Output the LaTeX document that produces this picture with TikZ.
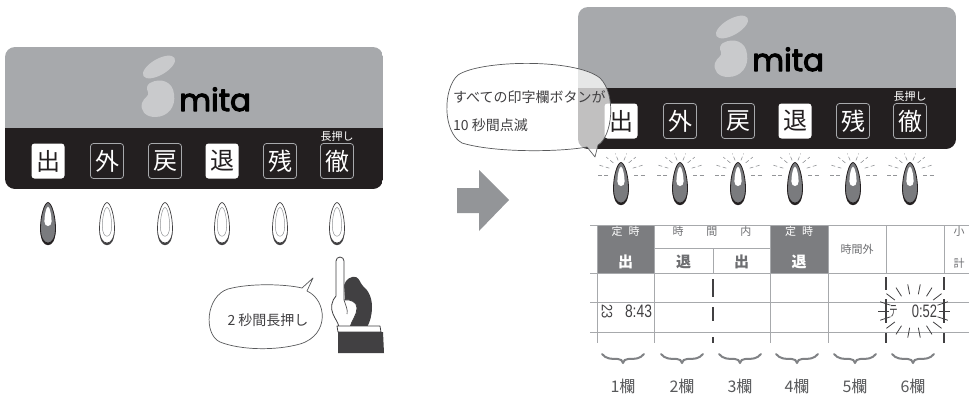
\documentclass[tikz,border=0pt]{standalone}
\usepackage{fontspec}
\usepackage{graphicx}
\setmainfont{Noto Sans CJK JP}
\newfontfamily\logofont{Poppins}[FakeBold=3.5]
\newfontfamily\digitfont{Liberation Sans}

\definecolor{panelgray}{HTML}{A7A9AC}
\definecolor{paneldark}{HTML}{231F20}
\definecolor{logogray}{HTML}{C9CACC}
\definecolor{btnedge}{HTML}{A7A9AC}
\definecolor{ledgray}{HTML}{7A7B7E}
\definecolor{arrowgray}{HTML}{939598}
\definecolor{linegray}{HTML}{A7A9AC}
\definecolor{cellgray}{HTML}{7C7D80}
\definecolor{textgray}{HTML}{6D6E71}
\definecolor{textdark}{HTML}{414042}
\definecolor{bubbleedge}{HTML}{58595B}
\definecolor{handdark}{HTML}{414042}
\definecolor{raygray}{HTML}{939598}
\definecolor{bracegray}{HTML}{808285}

\begin{document}
\begin{tikzpicture}[x=1pt, y=-1pt, line join=round,
  % bullet-shaped outline of an indicator lamp
  teardrop/.style={insert path={(0,-20) .. controls (3.6,-19.5) and (7.5,-7) .. (7.5,6)
      .. controls (7.5,15.5) and (4.2,20.5) .. (0,20.5) .. controls (-4.2,20.5) and (-7.5,15.5) .. (-7.5,6)
      .. controls (-7.5,-7) and (-3.6,-19.5) .. (0,-20) -- cycle}},
  btnlit/.style={fill=white, rounded corners=3pt, minimum width=33pt, minimum height=35pt,
      inner sep=0pt, text=paneldark, font=\fontsize{24}{24}\selectfont},
  btndark/.style={draw=btnedge, line width=0.8pt, rounded corners=3pt, minimum width=33pt,
      minimum height=35pt, inner sep=0pt, text=white, font=\fontsize{24}{24}\selectfont},
  holdnote/.style={text=white, inner sep=0pt, font=\fontsize{11}{11}\selectfont},
  logotext/.style={text=black, inner sep=0pt, font=\logofont\fontsize{31}{31}\selectfont},
  bubble/.style={fill=white, fill opacity=0.72, draw=bubbleedge, line width=0.7pt},
  bubbletext/.style={text=textdark, inner sep=0pt, font=\fontsize{14}{14}\selectfont},
  tline/.style={draw=linegray, line width=1pt},
  tdark/.style={draw=textdark, line width=1.4pt},
  hdwhite/.style={text=white, inner sep=0pt, font=\fontsize{11}{11}\selectfont},
  hdwhitebold/.style={text=white, inner sep=0pt, font=\bfseries\fontsize{15}{15}\selectfont},
  hdgray/.style={text=textgray, inner sep=0pt, font=\fontsize{11}{11}\selectfont},
  hdgraybold/.style={text=textgray, inner sep=0pt, font=\bfseries\fontsize{15}{15}\selectfont},
  stamp/.style={text=textdark, inner sep=0pt, font=\digitfont\fontsize{18}{18}\selectfont},
  flashray/.style={draw=textdark, line width=0.8pt},
  lampray/.style={draw=raygray, line width=0.6pt, dash pattern=on 4pt off 2.5pt},
  bracestyle/.style={draw=bracegray, line width=2pt, line cap=round},
  colabel/.style={text=bubbleedge, inner sep=0pt, font=\fontsize{16}{16}\selectfont},
  % the time-clock key panel
  device/.pic={
    \begin{scope}
      \clip[rounded corners=10pt] (5,47) rectangle (383,189);
      \fill[panelgray] (5,47) rectangle (383,128);
      \fill[paneldark] (5,128) rectangle (383,189);
    \end{scope}
    \fill[logogray, rotate around={30:(159,67)}] (159,67) ellipse [x radius=18, y radius=8];
    \fill[logogray] (150,83) .. controls (161,77) and (173,82) .. (174,94)
        .. controls (176,107) and (168,117) .. (155,117) .. controls (145,117) and (140,110) .. (142,103)
        .. controls (144,97) and (150,96) .. (148,92) .. controls (146,88) and (147,85) .. (150,83) -- cycle;
    \node[logotext, anchor=base west] (-logo) at (179,111) {mita};
    \foreach \n/\x/\c in {1/48/出, 4/222/退}
      \node[btnlit] (-b\n) at (\x,161) {\c};
    \foreach \n/\x/\c in {2/107/外, 3/165/戻, 5/280/残, 6/337/徹}
      \node[btndark] (-b\n) at (\x,161) {\c};
    \node[holdnote, anchor=south] (-hold) at (337,142) {長押し};
  },
  ledon/.pic={
    \fill[paneldark, shift={(0,2.2)}] [teardrop];
    \filldraw[fill=ledgray, draw=paneldark, line width=0.8pt] [teardrop];
    \fill[white] (0,-16) .. controls (2.2,-15) and (3.6,-6) .. (3.6,-1) .. controls (3.6,2) and (2,3.5) .. (0,3.5)
        .. controls (-2,3.5) and (-3.6,2) .. (-3.6,-1) .. controls (-3.6,-6) and (-2.2,-15) .. (0,-16) -- cycle;
  },
  ledoff/.pic={
    \fill[textdark, shift={(0,2.2)}] [teardrop];
    \filldraw[fill=white, draw=textdark, line width=0.7pt] [teardrop];
    \begin{scope}[shift={(0,-1)}, xscale=0.62, yscale=0.72]
      \draw[draw=arrowgray, line width=0.5pt] [teardrop];
    \end{scope}
  },
  lamprays/.pic={
    \foreach \a in {180,207,234,257,283,306,333,360}
      \draw[lampray] ({13*cos(\a)},{-7.5+15*sin(\a)}) -- ({25*cos(\a)},{-7.5+22*sin(\a)});
  }
]
\useasboundingbox (0,0) rectangle (969,394);

% ---------- left: key panel before the long press ----------
\pic (L) at (0,0) {device};
\pic (Lled1) at (48,222.5) {ledon};
\foreach \n/\x in {2/107, 3/165, 4/222, 5/280, 6/337}
  \pic (Lled\n) at (\x,222.5) {ledoff};

% speech bubble
\path[fill=white, draw=bubbleedge, line width=0.7pt] (302,288) -- (313,278) -- (307,291)
   .. controls (327,300) and (330,335) .. (300,344) .. controls (275,351) and (240,350) .. (220,342)
   .. controls (203,334) and (206,296) .. (228,289) .. controls (250,283) and (285,284) .. (302,288) -- cycle;
\node[bubbletext] (pressnote) at (268,320) {2 秒間長押し};

% pointing hand
\fill[handdark] (344,285) .. controls (346,279) and (351,276) .. (356,277) .. controls (360,279) and (360,283) .. (363,286)
   .. controls (368,290) and (372,297) .. (372,307) .. controls (372,315) and (370,322) .. (367,327) -- (347,327) -- cycle;
\filldraw[fill=white, draw=handdark, line width=0.8pt] (344,300) -- (344,261) arc[start angle=0, end angle=-180, radius=4]
   -- (336,296) .. controls (332,300) and (330,308) .. (333,314) .. controls (335,319) and (338,322) .. (339,327)
   -- (350,327) .. controls (352,320) and (357,315) .. (357,308) .. controls (357,302) and (351,299) .. (344,300);
\draw[handdark, line width=0.6pt] (344,300) .. controls (346,306) and (348,310) .. (347,314);
\filldraw[fill=white, draw=handdark, line width=0.8pt] (337,326) -- (380,326) -- (381,332) -- (338,332) -- cycle;
\fill[handdark] (338,332) -- (383,332) -- (384,353) -- (338,353) -- cycle;

% ---------- arrow ----------
\fill[arrowgray] (457,188) -- (479,188) -- (479,170) -- (509,200) -- (479,231) -- (479,213) -- (457,213) -- cycle;

% ---------- right: every key flashing ----------
\pic (R) at (573,-40) {device};
\foreach \n/\x in {1/621, 2/680, 3/738, 4/795, 5/853, 6/910} {
  \pic (Rray\n) at (\x,182.5) {lamprays};
  \pic (Rled\n) at (\x,182.5) {ledon};
}

\path[bubble] (587,147) -- (595,157) -- (598,145)
   .. controls (612,137) and (617,95) .. (600,78) .. controls (575,58) and (480,60) .. (458,75)
   .. controls (443,88) and (442,132) .. (462,143) .. controls (495,153) and (560,152) .. (587,147) -- cycle;
\node[bubbletext, anchor=west] (flashnote1) at (453,97) {すべての印字欄ボタンが};
\node[bubbletext, anchor=west] (flashnote2) at (453,125) {10 秒間点滅};

% ---------- time card ----------
\fill[cellgray] (597,225) rectangle (654,273);
\fill[cellgray] (770,225) rectangle (828,273);
\foreach \y in {225,273,302,332}
  \draw[tline] (590,\y) -- (969,\y);
\draw[tline] (654,248) -- (770,248);
\foreach \x in {597,654,770,828}
  \draw[tline] (\x,225) -- (\x,343);
\draw[tline] (886,225) -- (886,273);
\draw[tline] (944,225) -- (944,273);
\draw[tline] (713,248) -- (713,273);
% printed column divider
\foreach \a/\b in {279/297, 307/321, 337/343}
  \draw[tdark] (713,\a) -- (713,\b);
% highlighted column edges
\foreach \a/\b in {277/290, 299/323, 333/343} {
  \draw[tdark, line width=1.2pt] (886,\a) -- (886,\b);
  \draw[tdark, line width=1.2pt] (944,\a) -- (944,\b);
}

\node[hdwhite] (h1a) at (625.5,231) {定\hspace{6pt}時};
\node[hdwhitebold] (h1b) at (625.5,262) {出};
\node[hdgray] (h23a) at (712,231) {時\hspace{23pt}間\hspace{23pt}内};
\node[hdgraybold] (h2b) at (683.5,262) {退};
\node[hdgraybold] (h3b) at (741.5,262) {出};
\node[hdwhite] (h4a) at (799,231) {定\hspace{6pt}時};
\node[hdwhitebold] (h4b) at (799,262) {退};
\node[hdgray] (h5) at (857,249) {時間外};
\node[hdgray] (h7a) at (959,231) {小};
\node[hdgray] (h7b) at (959,263) {計};

\node[stamp, rotate=-90, font=\digitfont\fontsize{15}{15}\selectfont] (day) at (607,311.5) {\scalebox{0.85}[1]{23}};
\node[stamp] (clockin) at (638.5,311.5) {\scalebox{0.77}[1]{8:43}};
\node[stamp, font=\fontsize{15}{15}\selectfont] (mark) at (893.5,311) {\scalebox{0.55}[1]{テ}};
\node[stamp] (overtime) at (924.5,311.5) {\scalebox{0.72}[1]{0:52}};
\foreach \a in {0,20,...,340}
  \draw[flashray] ({914+25*cos(\a)},{311+17*sin(\a)}) -- ({914+36*cos(\a)},{311+27*sin(\a)});

% column numbers
\foreach \i/\x in {1/623, 2/682, 3/740, 4/797, 5/855, 6/913} {
  \draw[bracestyle] (\x-21,354) .. controls (\x-17,359) and (\x-12,359) .. (\x-5,359)
     .. controls (\x-2,359) and (\x-0.8,360.5) .. (\x,363) .. controls (\x+0.8,360.5) and (\x+2,359) .. (\x+5,359)
     .. controls (\x+12,359) and (\x+17,359) .. (\x+21,354);
  \node[colabel] (col\i) at (\x,386) {{\i}欄};
}
\end{tikzpicture}
\end{document}
